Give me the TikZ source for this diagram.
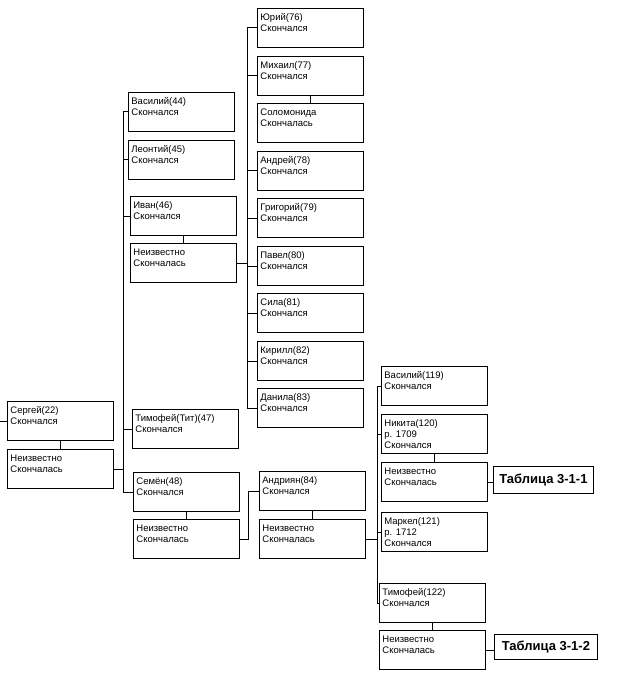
\documentclass[tikz,border=0pt]{standalone}
\usepackage{fontspec}
\setmainfont{Liberation Sans}
\tikzstyle{person}=[rectangle, draw, anchor=north west, inner sep=3pt, font=\fontsize{9.5}{11}\selectfont]
\tikzstyle{tabref}=[rectangle, draw, anchor=north west, inner sep=0pt, minimum width=100pt, minimum height=27pt, font=\bfseries\fontsize{13}{15}\selectfont]
\tikzstyle{link}=[line width=1.6pt]
\newcommand{\card}[1]{\parbox[c][33pt][t]{100pt}{\rule{0pt}{9pt}#1}}

\begin{document}
\begin{tikzpicture}[x=1pt, y=-1pt, line width=0.8pt]
    \useasboundingbox (0,0) rectangle (619,676);
    % generation 1
    \node[person] (s22) at (7,401) {\card{Сергей(22)\\Скончался}};
    \node[person] (w22) at (7,449) {\card{Неизвестно\\Скончалась}};
    % generation 2
    \node[person] (v44) at (128,92) {\card{Василий(44)\\Скончался}};
    \node[person] (l45) at (128,140) {\card{Леонтий(45)\\Скончался}};
    \node[person] (i46) at (130,196) {\card{Иван(46)\\Скончался}};
    \node[person] (w46) at (130,243) {\card{Неизвестно\\Скончалась}};
    \node[person] (t47) at (132,409) {\card{Тимофей(Тит)(47)\\Скончался}};
    \node[person] (s48) at (133,472) {\card{Семён(48)\\Скончался}};
    \node[person] (w48) at (133,519) {\card{Неизвестно\\Скончалась}};
    % generation 3
    \node[person] (u76) at (257,8) {\card{Юрий(76)\\Скончался}};
    \node[person] (m77) at (257,56) {\card{Михаил(77)\\Скончался}};
    \node[person] (w77) at (257,103) {\card{Соломонида\\Скончалась}};
    \node[person] (a78) at (257,151) {\card{Андрей(78)\\Скончался}};
    \node[person] (g79) at (257,198) {\card{Григорий(79)\\Скончался}};
    \node[person] (p80) at (257,246) {\card{Павел(80)\\Скончался}};
    \node[person] (s81) at (257,293) {\card{Сила(81)\\Скончался}};
    \node[person] (k82) at (257,341) {\card{Кирилл(82)\\Скончался}};
    \node[person] (d83) at (257,388) {\card{Данила(83)\\Скончался}};
    \node[person] (a84) at (259,471) {\card{Андриян(84)\\Скончался}};
    \node[person] (w84) at (259,519) {\card{Неизвестно\\Скончалась}};
    % generation 4
    \node[person] (v119) at (381,366) {\card{Василий(119)\\Скончался}};
    \node[person] (n120) at (381,414) {\card{Никита(120)\\р. 1709\\Скончался}};
    \node[person] (w120) at (381,462) {\card{Неизвестно\\Скончалась}};
    \node[person] (m121) at (381,512) {\card{Маркел(121)\\р. 1712\\Скончался}};
    \node[person] (t122) at (379,583) {\card{Тимофей(122)\\Скончался}};
    \node[person] (w122) at (379,630) {\card{Неизвестно\\Скончалась}};
    % references
    \node[tabref] (tab1) at (493,466) {Таблица 3-1-1};
    \node[tabref, minimum width=103pt, minimum height=25pt] (tab2) at (494,634) {Таблица 3-1-2};

    % couples
    \foreach \h/\w in {s22/w22, i46/w46, s48/w48, m77/w77, a84/w84, n120/w120, t122/w122}
        \draw[link] (\h.south) -- (\w.north);

    % trunks
    \coordinate (root) at (0,0);
    \coordinate (t1) at (123,0);
    \coordinate (t2) at (247,0);
    \coordinate (t3) at (248,0);
    \coordinate (t4) at (377,0);
    \draw (root |- s22.west) -- (s22.west);
    \foreach \c in {v44,l45,i46,t47,s48}
        \draw (w22.east) -| (t1 |- \c.west) -- (\c.west);
    \foreach \c in {u76,m77,a78,g79,p80,s81,k82,d83}
        \draw (w46.east) -| (t2 |- \c.west) -- (\c.west);
    \draw (w48.east) -| (t3 |- a84.west) -- (a84.west);
    \foreach \c in {v119,n120,m121,t122}
        \draw (w84.east) -| (t4 |- \c.west) -- (\c.west);
    \draw (w120.east) -- (w120.east -| tab1.west);
    \draw (w122.east) -- (w122.east -| tab2.west);
\end{tikzpicture}
\end{document}
